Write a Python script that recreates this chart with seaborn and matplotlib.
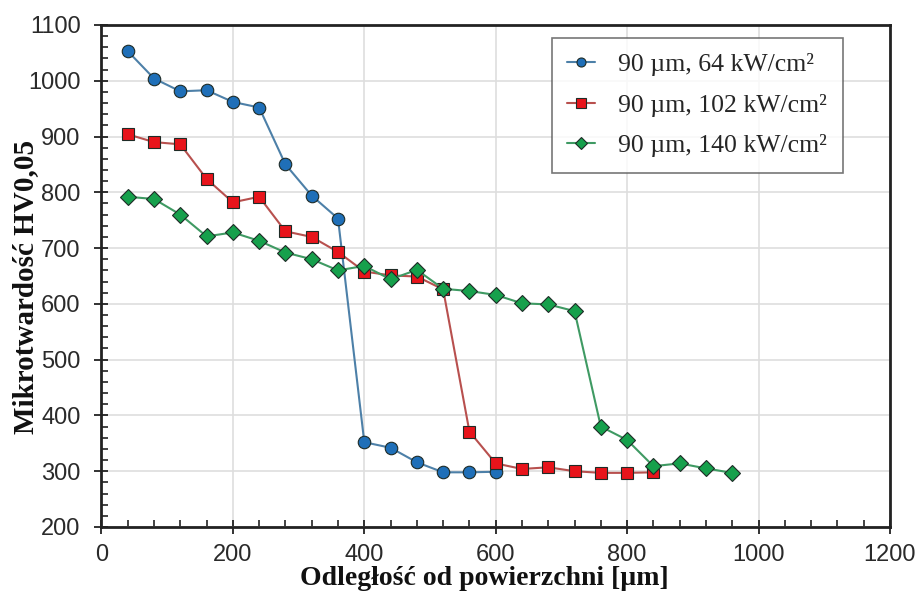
import numpy as np
import pandas as pd
import matplotlib
matplotlib.use("Agg")
import matplotlib.pyplot as plt
from matplotlib.ticker import MultipleLocator
import seaborn as sns

labels = ["90 µm, 64 kW/cm²", "90 µm, 102 kW/cm²", "90 µm, 140 kW/cm²"]

x_blue = [40, 80, 120, 160, 200, 240, 280, 320, 360, 400, 440, 480, 520, 560, 600]
y_blue = [1053, 1004, 981, 983, 962, 952, 850, 794, 753, 352, 342, 316, 298, 298, 299]

x_red = [40, 80, 120, 160, 200, 240, 280, 320, 360, 400, 440, 480, 520, 560, 600,
         640, 680, 720, 760, 800, 840]
y_red = [904, 890, 886, 824, 782, 792, 730, 720, 693, 658, 651, 649, 626, 371, 314,
         304, 307, 300, 297, 297, 298]

x_green = [40, 80, 120, 160, 200, 240, 280, 320, 360, 400, 440, 480, 520, 560, 600,
           640, 680, 720, 760, 800, 840, 880, 920, 960]
y_green = [792, 788, 760, 721, 728, 713, 692, 680, 660, 668, 644, 661, 627, 623, 616,
           601, 599, 587, 380, 356, 309, 314, 305, 297]

sns.set_style("white")
plt.rcParams['font.family'] = ['Liberation Sans', 'DejaVu Sans']
serif = ["Liberation Serif", "DejaVu Serif"]

fig = plt.figure(figsize=(9.2, 6.0), dpi=100)
ax = fig.add_axes([0.1103, 0.1217, 0.857, 0.8367])

series = [
    (x_blue, y_blue, labels[0], "#4d80a8", "#1f6fb8", "o", 9),
    (x_red, y_red, labels[1], "#b8504e", "#e8141b", "s", 8.2),
    (x_green, y_green, labels[2], "#3f9a63", "#16a04c", "D", 8),
]
for xs, ys, lab, lc, fc, mk, ms in series:
    df = pd.DataFrame({"x": xs, "y": ys})
    sns.lineplot(data=df, x="x", y="y", ax=ax, color=lc, linewidth=1.5,
                 marker=mk, markersize=ms, markerfacecolor=fc,
                 markeredgecolor="#1e2b26", markeredgewidth=0.8, label=lab)

ax.set_xlim(0, 1200)
ax.set_ylim(200, 1100)
ax.xaxis.set_major_locator(MultipleLocator(200))
ax.xaxis.set_minor_locator(MultipleLocator(40))
ax.yaxis.set_major_locator(MultipleLocator(100))
ax.yaxis.set_minor_locator(MultipleLocator(20))
ax.grid(True, which="major", color="#dedede", linewidth=1.2)
ax.set_axisbelow(True)
for s in ax.spines.values():
    s.set_color("#222222")
    s.set_linewidth(2.0)
ax.tick_params(axis="both", which="major", direction="inout", length=10, width=1.3,
               labelsize=17, colors="#222222", left=True, bottom=True)
ax.tick_params(axis="x", which="major", pad=7)
ax.tick_params(axis="y", which="major", pad=10)
ax.tick_params(axis="both", which="minor", direction="in", length=5, width=1.2,
               colors="#222222", left=True, bottom=True)
for t in ax.get_xticklabels() + ax.get_yticklabels():
    t.set_color("#2a2a2a")

ax.set_xlabel("Odległość od powierzchni [µm]", fontsize=20, fontweight="bold",
              family=serif, color="#111111")
ax.set_ylabel("Mikrotwardość HV0,05", fontsize=21, fontweight="bold",
              family=serif, color="#111111")
ax.xaxis.set_label_coords(0.486, -0.078)
ax.yaxis.set_label_coords(-0.079, 0.479)

leg = ax.legend(loc="upper right", bbox_to_anchor=(0.940, 0.974), fancybox=False,
                frameon=True, prop={"family": serif, "size": 18.5},
                handlelength=1.1, borderpad=0.6, labelspacing=0.68, handletextpad=0.9,
                borderaxespad=0.0)
leg.get_frame().set_edgecolor("#555555")
leg.get_frame().set_linewidth(1.2)
for h in leg.legend_handles:
    h.set_markersize(6.5)

fig.savefig("out.png", dpi=100)
